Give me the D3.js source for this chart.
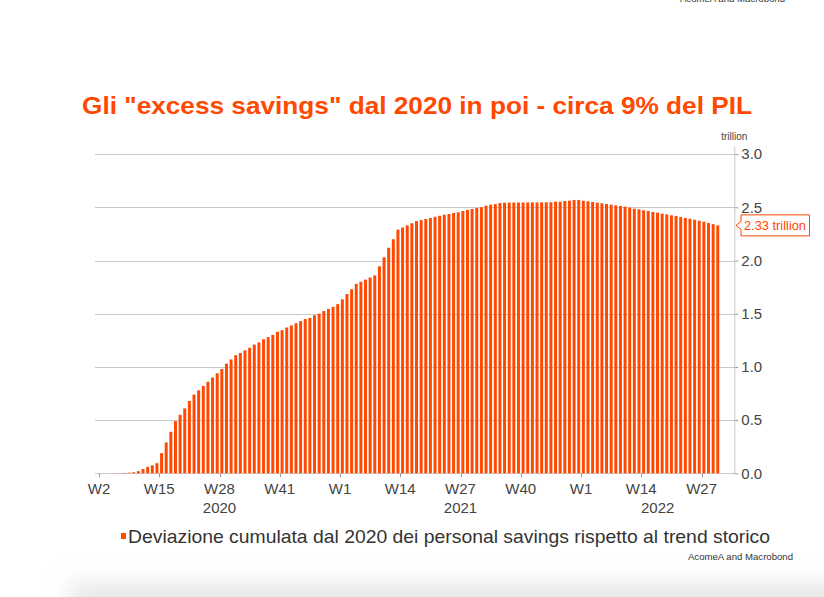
<!DOCTYPE html>
<html>
<head>
<meta charset="utf-8">
<script src="https://cdn.jsdelivr.net/npm/d3@7"></script>
<style>
  html, body { margin: 0; padding: 0; background: #fff; }
  svg { display: block; font-family: "Liberation Sans", Arial, sans-serif; }
</style>
</head>
<body>
<div id="chart"></div>
<script>
// Weekly periods shown: 2020 W2..W53, 2021 W1..W52, 2022 W1..W30
const yearSpans = [
    { year: 2020, first: 2, last: 53 },
    { year: 2021, first: 1, last: 52 },
    { year: 2022, first: 1, last: 30 }
];

// Cumulative deviation of personal savings from trend (trillion USD)
const values2020 = [
    0, 0, 0, 0, 0.002, 0.004, 0.006, 0.01, 0.02, 0.04, 0.06, 0.075, 0.095,
    0.19, 0.29, 0.39, 0.49, 0.55, 0.61, 0.68, 0.74, 0.78, 0.82, 0.86, 0.90,
    0.94, 0.98, 1.03, 1.07, 1.11, 1.13, 1.155, 1.18, 1.21, 1.23, 1.26, 1.28,
    1.30, 1.33, 1.345, 1.37, 1.39, 1.41, 1.43, 1.45, 1.46, 1.485, 1.50, 1.525,
    1.545, 1.565, 1.59
];
const values2021 = [
    1.635, 1.685, 1.73, 1.78, 1.80, 1.82, 1.84, 1.86, 1.945, 2.03, 2.12, 2.20,
    2.29, 2.31, 2.33, 2.35, 2.37, 2.38, 2.39, 2.40, 2.41, 2.42, 2.43, 2.437,
    2.446, 2.453, 2.465, 2.475, 2.484, 2.493, 2.50, 2.515, 2.525, 2.53, 2.54,
    2.543, 2.545, 2.545, 2.545, 2.545, 2.545, 2.546, 2.546, 2.547, 2.547,
    2.548, 2.553, 2.553, 2.56, 2.562, 2.569, 2.569
];
const values2022 = [
    2.562, 2.556, 2.55, 2.543, 2.537, 2.531, 2.525, 2.518, 2.512, 2.506,
    2.497, 2.487, 2.481, 2.472, 2.465, 2.456, 2.449, 2.44, 2.434, 2.425,
    2.418, 2.408, 2.40, 2.393, 2.383, 2.374, 2.365, 2.352, 2.342, 2.33
];

const xTickLabels = ['2020-W2', '2020-W15', '2020-W28', '2020-W41', '2021-W1', '2021-W14',
    '2021-W27', '2021-W40', '2022-W1', '2022-W14', '2022-W27'];
const yTicks = [0, 0.5, 1.0, 1.5, 2.0, 2.5, 3.0];

const titleText = 'Gli "excess savings" dal 2020 in poi - circa 9% del PIL';
const legendText = 'Deviazione cumulata dal 2020 dei personal savings rispetto al trend storico';
const sourceText = 'AcomeA and Macrobond';

// Build the week list + value rows
const weeks = [];
yearSpans.forEach(s => {
    for (let w = s.first; w <= s.last; w++) weeks.push(s.year + '-W' + w);
});
const allValues = values2020.concat(values2021, values2022);
const data = weeks.map((w, i) => ({ week: w, value: allValues[i] }));

const W = 824, H = 597;
const orange = '#ff4800';
const plotLeft = 95, plotRight = 734.3;

const svg = d3.select('#chart')
    .append('svg')
    .attr('width', W)
    .attr('height', H);

// soft page shadow at the bottom
const defs = svg.append('defs');
defs.append('filter')
    .attr('id', 'blur')
    .attr('x', '-20%').attr('y', '-100%')
    .attr('width', '140%').attr('height', '300%')
    .append('feGaussianBlur')
    .attr('stdDeviation', 12);

svg.append('rect')
    .attr('x', 70).attr('y', 585)
    .attr('width', 820).attr('height', 40)
    .attr('fill', '#e4e4e4')
    .attr('filter', 'url(#blur)');

// Scales
const x = d3.scaleBand()
    .domain(weeks)
    .range([99, 99 + weeks.length * 4.635])
    .paddingInner(0.36)
    .paddingOuter(0.18);

const y = d3.scaleLinear()
    .domain([0, 3])
    .range([473.3, 154.1]);

// Gridlines
svg.append('g')
    .selectAll('line')
    .data(yTicks)
    .join('line')
    .attr('x1', plotLeft)
    .attr('x2', plotRight)
    .attr('y1', d => Math.round(y(d)) + 0.5)
    .attr('y2', d => Math.round(y(d)) + 0.5)
    .attr('stroke', '#c9c9c9')
    .attr('stroke-width', 1);

// Bars
svg.append('g')
    .selectAll('rect')
    .data(data)
    .join('rect')
    .attr('x', d => x(d.week))
    .attr('width', x.bandwidth())
    .attr('y', d => y(d.value))
    .attr('height', d => y(0) - y(d.value))
    .attr('fill', orange);

// X axis ticks at start of each week period
const step = x.step();
const startOf = w => x.range()[0] + weeks.indexOf(w) * step;

svg.append('g')
    .selectAll('line')
    .data(xTickLabels)
    .join('line')
    .attr('x1', d => Math.round(startOf(d)) + 0.5)
    .attr('x2', d => Math.round(startOf(d)) + 0.5)
    .attr('y1', y(0))
    .attr('y2', y(0) + 4)
    .attr('stroke', '#999');

svg.append('g')
    .selectAll('text')
    .data(xTickLabels)
    .join('text')
    .attr('x', d => startOf(d))
    .attr('y', 494)
    .attr('text-anchor', 'middle')
    .attr('font-size', 15)
    .attr('fill', '#444')
    .text(d => d.split('-')[1]);

// Year labels centred on the visible part of each year
svg.append('g')
    .selectAll('text')
    .data(yearSpans)
    .join('text')
    .attr('x', (s, i) => {
        const a = Math.max(plotLeft, startOf(s.year + '-W' + s.first));
        const lastIdx = weeks.indexOf(s.year + '-W' + s.last);
        const b = i === yearSpans.length - 1 ? plotRight : x.range()[0] + (lastIdx + 1) * step;
        return (a + b) / 2;
    })
    .attr('y', 513)
    .attr('text-anchor', 'middle')
    .attr('font-size', 15)
    .attr('fill', '#444')
    .text(s => s.year);

// Right Y axis
const yAxis = d3.axisRight(y)
    .tickValues(yTicks)
    .tickSize(4)
    .tickPadding(3)
    .tickFormat(d3.format('.1f'));

const yg = svg.append('g')
    .attr('transform', `translate(${plotRight},0)`)
    .call(yAxis);
yg.select('.domain').remove();
yg.selectAll('.tick line').attr('stroke', '#999');
yg.selectAll('.tick text')
    .attr('font-family', '"Liberation Sans", Arial, sans-serif')
    .attr('font-size', 15)
    .attr('fill', '#444');

svg.append('line')
    .attr('x1', plotRight + 0.5).attr('x2', plotRight + 0.5)
    .attr('y1', 147).attr('y2', y(0))
    .attr('stroke', '#c9c9c9');

svg.append('text')
    .attr('x', plotRight)
    .attr('y', 140)
    .attr('text-anchor', 'middle')
    .attr('font-size', 10)
    .attr('fill', '#444')
    .text('trillion');

// Last value annotation
const last = data[data.length - 1];
const ay = y(last.value);
const ann = svg.append('g');
ann.append('path')
    .attr('d', `M741,${ay - 10.5} H809.5 V${ay + 10.5} H741 V${ay + 4} L736,${ay} L741,${ay - 4} Z`)
    .attr('fill', '#fff')
    .attr('stroke', orange)
    .attr('stroke-width', 1);
ann.append('text')
    .attr('x', 744)
    .attr('y', ay + 4.5)
    .attr('font-size', 12.5)
    .attr('textLength', 62)
    .attr('lengthAdjust', 'spacingAndGlyphs')
    .attr('fill', orange)
    .text(d3.format('.2f')(last.value) + ' trillion');

// Title
svg.append('text')
    .attr('x', 82)
    .attr('y', 114)
    .attr('font-size', 24.5)
    .attr('font-weight', 'bold')
    .attr('textLength', 670)
    .attr('lengthAdjust', 'spacingAndGlyphs')
    .attr('fill', orange)
    .text(titleText);

// Legend
svg.append('rect')
    .attr('x', 121).attr('y', 533)
    .attr('width', 5).attr('height', 6)
    .attr('fill', orange);
svg.append('text')
    .attr('x', 128)
    .attr('y', 543)
    .attr('font-size', 18.5)
    .attr('textLength', 642)
    .attr('lengthAdjust', 'spacingAndGlyphs')
    .attr('fill', '#333')
    .text(legendText);

// Source notes (the top one is clipped by the page edge, as in the original)
svg.append('text')
    .attr('x', 793)
    .attr('y', 560)
    .attr('text-anchor', 'end')
    .attr('font-size', 9.6)
    .attr('fill', '#333')
    .text(sourceText);
svg.append('text')
    .attr('x', 785)
    .attr('y', 2)
    .attr('text-anchor', 'end')
    .attr('font-size', 9.6)
    .attr('fill', '#333')
    .text(sourceText);
</script>
</body>
</html>
